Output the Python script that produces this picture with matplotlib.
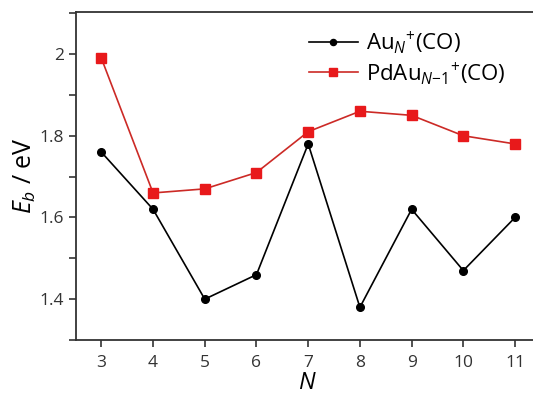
import matplotlib
matplotlib.use("Agg")
import matplotlib.pyplot as plt
from matplotlib.ticker import MultipleLocator, FormatStrFormatter

N = [3, 4, 5, 6, 7, 8, 9, 10, 11]
au_vals = [1.76, 1.62, 1.40, 1.46, 1.78, 1.38, 1.62, 1.47, 1.60]
pdau_vals = [1.99, 1.66, 1.67, 1.71, 1.81, 1.86, 1.85, 1.80, 1.78]
labels = [r"Au$_{N}$$^{+}$(CO)", r"PdAu$_{N\mathregular{-1}}$$^{+}$(CO)"]

plt.rcParams['font.family'] = ['Open Sans', 'DejaVu Sans']
plt.rcParams['mathtext.fontset'] = 'custom'
plt.rcParams['mathtext.rm'] = 'Open Sans'
plt.rcParams['mathtext.it'] = 'Open Sans:italic'

fig = plt.figure(figsize=(5.33, 4.0), dpi=100)
ax = fig.add_axes([76/533, 60/400, 1 - 76/533 + 0.01, 328/400])

ax.plot(N, au_vals, color='black', lw=1.2, marker='o', ms=5.5, label=labels[0])
ax.plot(N, pdau_vals, color='#cc2a26', lw=1.2, marker='s', ms=6.5,
        markerfacecolor='#e8191b', markeredgecolor='#e8191b', label=labels[1])

ax.set_xlim(2.51, 11.45)
ax.set_ylim(1.30, 2.103)
ax.set_xticks(N)
ax.yaxis.set_major_locator(MultipleLocator(0.2))
ax.yaxis.set_minor_locator(MultipleLocator(0.1))
ax.yaxis.set_major_formatter(FormatStrFormatter('%g'))

for s in ['left', 'bottom', 'top']:
    ax.spines[s].set_linewidth(1.3)
    ax.spines[s].set_color('#333333')
ax.spines['right'].set_visible(False)
ax.tick_params(direction='out', length=5, width=1.2, color='#333333',
               labelsize=12.5, labelcolor='#333333')
ax.tick_params(which='minor', direction='out', length=5, width=1.2, color='#333333')
ax.tick_params(axis='x', pad=6)

ax.set_xlabel(r"$N$", fontsize=17, labelpad=0)
ax.set_ylabel(r"$E_b$ / eV", fontsize=18, labelpad=1)

leg = ax.legend(loc='upper left', bbox_to_anchor=(0.46, 1.008), frameon=False,
                fontsize=16, handlelength=2.2, handletextpad=0.4, labelspacing=0.15,
                markerscale=0.8)

fig.savefig("out.png", dpi=100)
